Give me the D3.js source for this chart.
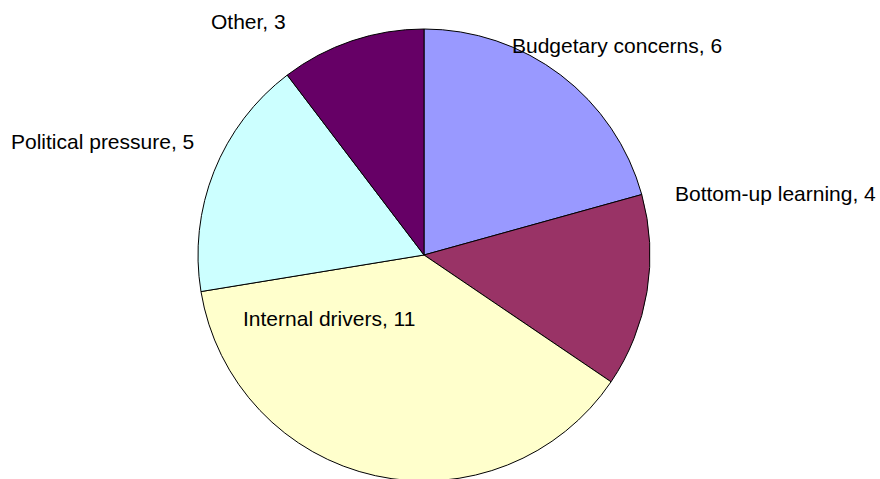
<!DOCTYPE html>
<html>
<head>
<meta charset="utf-8">
<script src="https://cdn.jsdelivr.net/npm/d3@7"></script>
<style>
  html, body { margin: 0; padding: 0; background: #fff; }
  svg text { font-family: "Liberation Sans", Arial, sans-serif; font-size: 21px; fill: #000; }
</style>
</head>
<body>
<div id="chart"></div>
<script>
// slice data, clockwise from 12 o'clock
const categories = ['Budgetary concerns', 'Bottom-up learning', 'Internal drivers', 'Political pressure', 'Other'];
const values = [6, 4, 11, 5, 3];
const colors = ['#9999FF', '#993366', '#FFFFCC', '#CCFFFF', '#660066'];

// label placement (left x, baseline y)
const labelLayout = [[512, 53], [675, 201], [243, 326], [11, 149], [211, 29]];

const width = 880, height = 479;
const cx = 424, cy = 255, radius = 226;

const svg = d3.select('#chart')
  .append('svg')
  .attr('width', width)
  .attr('height', height);

const pie = d3.pie().sort(null).value(d => d.value);
const arc = d3.arc().innerRadius(0).outerRadius(radius);

const data = categories.map((c, i) => ({ name: c, value: values[i], color: colors[i] }));

const g = svg.append('g').attr('transform', `translate(${cx},${cy})`);

g.selectAll('path.slice')
  .data(pie(data))
  .enter()
  .append('path')
  .attr('class', 'slice')
  .attr('d', arc)
  .attr('fill', d => d.data.color)
  .attr('stroke', '#000')
  .attr('stroke-width', 1)
  .attr('stroke-linejoin', 'round');

svg.selectAll('text.label')
  .data(data)
  .enter()
  .append('text')
  .attr('class', 'label')
  .attr('x', (d, i) => labelLayout[i][0])
  .attr('y', (d, i) => labelLayout[i][1])
  .text(d => d.name + ', ' + d.value);
</script>
</body>
</html>
